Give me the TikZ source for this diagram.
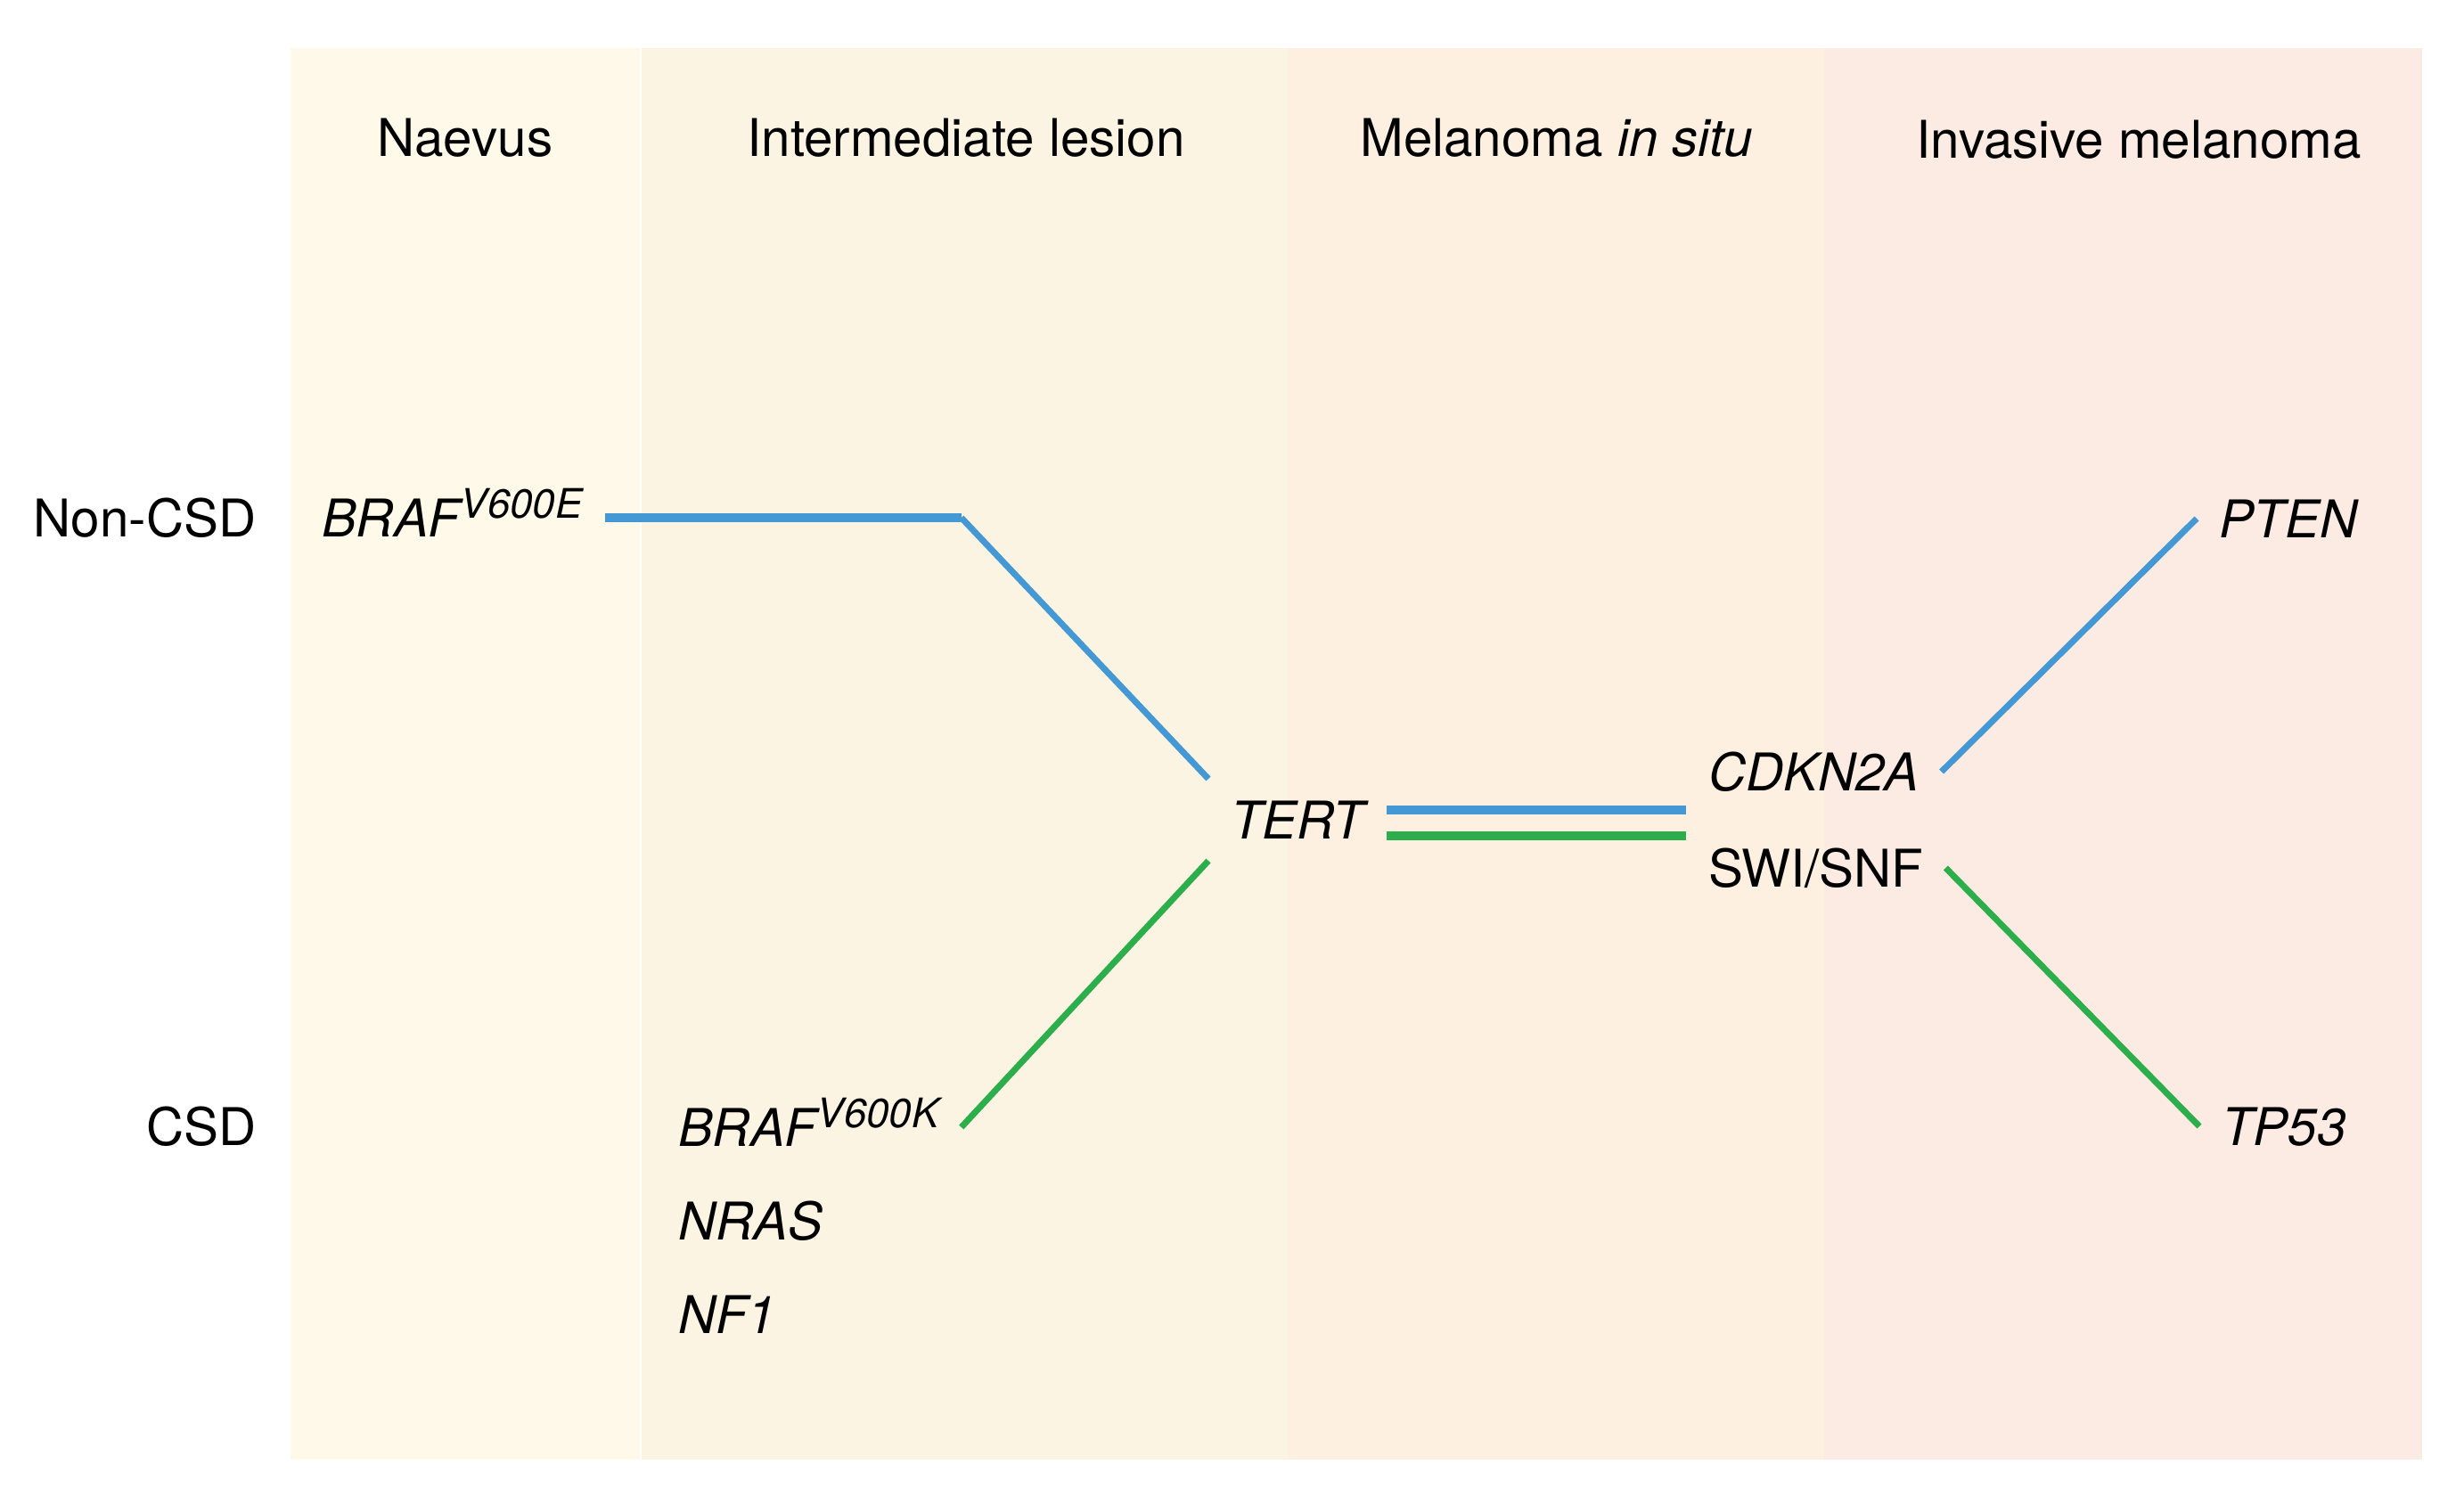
\documentclass[tikz,border=0pt]{standalone}
\usepackage{fontspec}
\setmainfont{TeX Gyre Heros}
\usetikzlibrary{positioning}

\definecolor{naevusbg}{HTML}{FEF9E8}
\definecolor{interbg}{HTML}{FCF4E2}
\definecolor{situbg}{HTML}{FDF0E0}
\definecolor{invasivebg}{HTML}{FCEBE2}
\definecolor{routeblue}{HTML}{4499D5}
\definecolor{routegreen}{HTML}{2BAE4B}

\newcommand{\mutsup}[1]{\raisebox{5.7pt}{\fontsize{13}{13}\selectfont #1}}

\begin{document}
\begin{tikzpicture}[
    head/.style={inner sep=0, font=\fontsize{16.6}{20}\selectfont, anchor=base},
    side/.style={inner sep=0, font=\fontsize{16.6}{20}\selectfont, anchor=base east},
    gene/.style={inner sep=0, outer sep=0.25cm, text height=0.42cm, text depth=0pt, font=\fontsize{16.6}{20}\selectfont\itshape, anchor=base west},
    thickroute/.style={line width=3.1pt},
    thinroute/.style={line width=2pt}
]
\useasboundingbox (0,0) rectangle (27.65,-16.79);

% Stage columns
\fill[naevusbg] (3.26,-0.54) rectangle (7.18,-16.38);
\fill[interbg] (7.20,-0.54) rectangle (14.45,-16.38);
\fill[situbg] (14.45,-0.54) rectangle (20.47,-16.38);
\fill[invasivebg] (20.47,-0.54) rectangle (27.18,-16.38);

% Stage headings
\node[head] (naevus) at (5.22,-1.75) {Naevus};
\node[head] (inter) at (10.84,-1.75) {Intermediate lesion};
\node[head] (situ) at (17.47,-1.75) {Melanoma \textit{in situ}};
\node[head] (invasive) at (24.00,-1.77) {Invasive melanoma};

% Skin type
\node[side] (noncsd) at (2.88,-6.02) {Non-CSD};
\node[side] (csd) at (2.88,-12.85) {CSD};

% Genes
\node[gene] (brafE) at (3.36,-6.02) {BRAF\mutsup{V600E}};
\node[gene] (brafK) at (7.36,-12.86) {BRAF\mutsup{V600K}};
\node[gene, below=0.13cm of brafK.south west, anchor=north west] (nras) {NRAS};
\node[gene, below=0.13cm of nras.south west, anchor=north west] (nf1) {NF1};
\node[gene] (tert) at (13.56,-9.41) {TERT};
\node[gene] (cdkn) at (18.92,-8.87) {CDKN2A};
\node[gene, font=\fontsize{16.6}{20}\selectfont] (swisnf) at (18.92,-9.95) {SWI/SNF};
\node[gene] (pten) at (24.65,-6.03) {PTEN};
\node[gene] (tp53) at (24.68,-12.85) {TP53};

% Non-CSD route
\draw[routeblue, thickroute] (brafE.east) -- (brafE.east -| brafK.east) coordinate (bend);
\draw[routeblue, thinroute] (bend) -- (tert.north west);

% CSD route
\draw[routegreen, thinroute] (brafK.east) -- (tert.south west);

% Shared step
\draw[routeblue, thickroute] ([yshift=0.11cm]tert.east) -- ([yshift=0.11cm]tert.east -| cdkn.west);
\draw[routegreen, thickroute] ([yshift=-0.18cm]tert.east) -- ([yshift=-0.18cm]tert.east -| cdkn.west);

% Late steps
\draw[routeblue, thinroute] (cdkn.east) -- (pten.west);
\draw[routegreen, thinroute] (swisnf.east) -- (tp53.west);

\end{tikzpicture}
\end{document}
